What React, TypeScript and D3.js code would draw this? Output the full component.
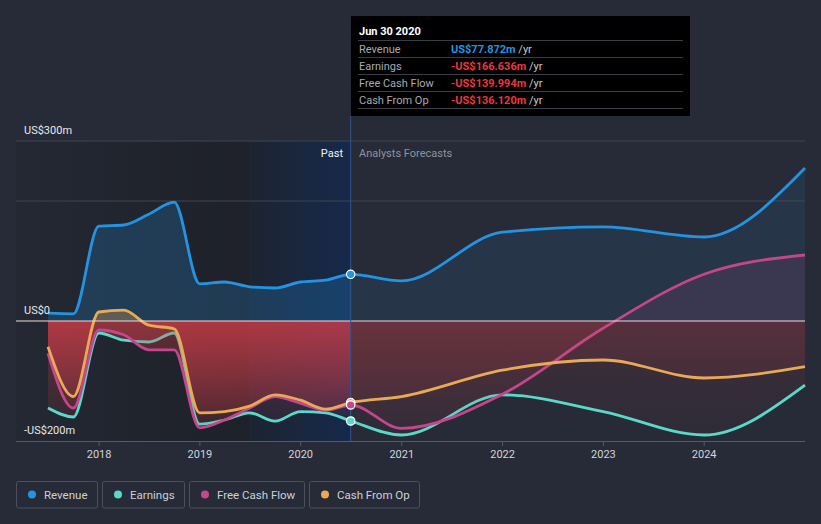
import React from "react";
import * as d3 from "d3";

const W = 821;
const H = 524;

const pastDates = [
  "2017-06-30", "2017-09-30", "2017-12-31", "2018-03-31", "2018-06-30", "2018-09-30",
  "2018-12-31", "2019-03-31", "2019-06-30", "2019-09-30", "2019-12-31", "2020-03-31", "2020-06-30",
];
const forecastDates = ["2020-12-31", "2021-12-31", "2022-12-31", "2023-12-31", "2024-12-31"];

const revenuePast = [13, 12, 158, 160, 178, 198, 62, 65, 57, 55, 65, 68, 77.872];
const revenueFc = [67, 148, 157, 140, 255];
const earningsPast = [-145, -160, -20, -32, -35, -20, -172, -165, -153, -167, -151, -153, -166.636];
const earningsFc = [-190, -123, -151, -190, -107];
const fcfPast = [-54, -145, -15, -23, -48, -48, -178, -165, -145, -126, -137, -149, -139.994];
const fcfFc = [-179, -122, -12, 78, 110];
const cfoPast = [-43, -126, 15, 18, -7, -13, -153, -151, -142, -123, -132, -147, -136.12];
const cfoFc = [-126, -82, -65, -95, -76];

const yearTicks = [2018, 2019, 2020, 2021, 2022, 2023, 2024];
const yTickLabels = [
  { v: 300, t: "US$300m" },
  { v: 0, t: "US$0" },
  { v: -200, t: "-US$200m" },
];
const gridValues = [300, 200];

const seriesNames = ["Revenue", "Earnings", "Free Cash Flow", "Cash From Op"];
const seriesColors = ["#2394e2", "#5ad9c9", "#c4468c", "#e8aa55"];
const tooltipValues = ["US$77.872m", "-US$166.636m", "-US$139.994m", "-US$136.120m"];

const parse = d3.timeParse("%Y-%m-%d");
type Pt = { d: Date; v: number };
const mk = (past: number[], fc: number[]): Pt[] =>
  [...pastDates.map((s, i) => ({ d: parse(s)!, v: past[i] })), ...forecastDates.map((s, i) => ({ d: parse(s)!, v: fc[i] }))];

const series = [
  mk(revenuePast, revenueFc),
  mk(earningsPast, earningsFc),
  mk(fcfPast, fcfFc),
  mk(cfoPast, cfoFc),
];

export default function App() {
  const x = d3.scaleTime().domain([parse("2017-06-30")!, parse("2024-12-31")!]).range([48, 805]);
  const y = d3.scaleLinear().domain([-200, 300]).range([441, 141]);
  const y0 = y(0);
  const nowX = x(parse("2020-06-30")!);
  const bandX = x(parse("2019-06-30")!);
  const left = 16;
  const right = 805;

  const line = d3.line<Pt>().x((p) => x(p.d)).y((p) => y(p.v)).curve(d3.curveMonotoneX);
  const area = d3.area<Pt>().x((p) => x(p.d)).y0(y0).y1((p) => y(p.v)).curve(d3.curveMonotoneX);

  const font = "Roboto, 'Noto Sans', sans-serif";
  const pastPosOp = [0.22, 0.0, 0.25, 0.3];
  const forePosOp = [0.1, 0.0, 0.13, 0.15];

  const lastPast = series.map((s) => s[pastDates.length - 1]);

  return (
    <svg width={W} height={H} style={{ position: "absolute", left: 0, top: 0, display: "block" }} fontFamily={font}>
      <defs>
        <linearGradient id="pastDark" x1="0" x2="1" y1="0" y2="0">
          <stop offset="0" stopColor="#242833" />
          <stop offset="1" stopColor="#1e2129" />
        </linearGradient>
        <linearGradient id="band" x1="0" x2="1" y1="0" y2="0">
          <stop offset="0" stopColor="#1d2432" />
          <stop offset="1" stopColor="#16294a" />
        </linearGradient>
        <linearGradient id="redPast" gradientUnits="userSpaceOnUse" x1="0" x2="0" y1={y0} y2={441}>
          <stop offset="0" stopColor="#e8404a" stopOpacity={0.33} />
          <stop offset="1" stopColor="#e8404a" stopOpacity={0.03} />
        </linearGradient>
        <linearGradient id="redFore" gradientUnits="userSpaceOnUse" x1="0" x2="0" y1={y0} y2={441}>
          <stop offset="0" stopColor="#e8404a" stopOpacity={0.13} />
          <stop offset="1" stopColor="#e8404a" stopOpacity={0.03} />
        </linearGradient>
        <clipPath id="pastPos"><rect x={0} y={0} width={nowX} height={y0} /></clipPath>
        <clipPath id="pastNeg"><rect x={0} y={y0} width={nowX} height={H - y0} /></clipPath>
        <clipPath id="forePos"><rect x={nowX} y={0} width={W - nowX} height={y0} /></clipPath>
        <clipPath id="foreNeg"><rect x={nowX} y={y0} width={W - nowX} height={H - y0} /></clipPath>
      </defs>

      <rect x={0} y={0} width={W} height={H} fill="#262b37" />

      {/* past shading */}
      <rect x={left} y={y(300)} width={bandX - left} height={441 - y(300)} fill="url(#pastDark)" />
      <rect x={bandX} y={y(300)} width={nowX - bandX} height={441 - y(300)} fill="url(#band)" />

      {/* grid */}
      {gridValues.map((v) => (
        <line key={v} x1={left} x2={right} y1={y(v)} y2={y(v)} stroke="#3f4452" strokeWidth={1} />
      ))}

      {/* series fills and lines */}
      {series.map((s, i) => (
        <g key={i}>
          <path d={area(s)!} fill={seriesColors[i]} fillOpacity={pastPosOp[i]} clipPath="url(#pastPos)" />
          <path d={area(s)!} fill={seriesColors[i]} fillOpacity={forePosOp[i]} clipPath="url(#forePos)" />
          {i > 0 && <path d={area(s)!} fill="url(#redPast)" clipPath="url(#pastNeg)" />}
          {i > 0 && <path d={area(s)!} fill="url(#redFore)" clipPath="url(#foreNeg)" />}
          <path d={line(s)!} fill="none" stroke={seriesColors[i]} strokeWidth={2.8} strokeLinejoin="round" />
        </g>
      ))}

      {/* zero line */}
      <line x1={left} x2={right} y1={y0} y2={y0} stroke="#f2dada" strokeWidth={1.2} />

      {/* x axis */}
      <line x1={left} x2={right} y1={441.5} y2={441.5} stroke="#555b6a" strokeWidth={1} />
      {yearTicks.map((yr) => {
        const tx = x(new Date(yr, 0, 1));
        return (
          <g key={yr}>
            <line x1={tx} x2={tx} y1={441} y2={446} stroke="#555b6a" />
            <text x={tx} y={458} textAnchor="middle" fontSize={11} fill="#d2d5da">{yr}</text>
          </g>
        );
      })}

      {/* y labels */}
      {yTickLabels.map((t) => (
        <text key={t.v} x={24} y={y(t.v) - 7} fontSize={11} fill="#e6e8ec">{t.t}</text>
      ))}

      {/* past / forecast */}
      <line x1={nowX} x2={nowX} y1={116} y2={441} stroke="#34548a" strokeWidth={1} />
      <text x={343} y={157} textAnchor="end" fontSize={11} fill="#f0f1f3">Past</text>
      <text x={359} y={157} fontSize={11} fill="#8e939c">Analysts Forecasts</text>

      {/* markers */}
      {[0, 1, 3, 2].map((i) => (
        <circle key={i} cx={x(lastPast[i].d)} cy={y(lastPast[i].v)} r={4.2} fill={seriesColors[i]} stroke="#ffffff" strokeWidth={1.2} />
      ))}

      {/* tooltip */}
      <rect x={351} y={16} width={339} height={100} fill="#000000" />
      <text x={359} y={35} fontSize={11} fontWeight="bold" fill="#ffffff">Jun 30 2020</text>
      {seriesNames.map((n, i) => {
        const ty = 40.5 + i * 17;
        return (
          <g key={n}>
            <line x1={358} x2={683} y1={ty} y2={ty} stroke="#3a3d44" strokeWidth={1} />
            <text x={359} y={ty + 12} fontSize={11} fill="#a7abb2">{n}</text>
            <text x={451} y={ty + 12} fontSize={11}>
              <tspan fontWeight="bold" fill={i === 0 ? "#2394e2" : "#e8383f"}>{tooltipValues[i]}</tspan>
              <tspan fill="#c9ccd1"> /yr</tspan>
            </text>
          </g>
        );
      })}
      <line x1={358} x2={683} y1={108.5} y2={108.5} stroke="#3a3d44" strokeWidth={1} />

      {/* legend */}
      {(() => {
        const boxes = [
          { x: 16.5, w: 81 },
          { x: 102.5, w: 82 },
          { x: 189.5, w: 115 },
          { x: 309.5, w: 110 },
        ];
        return seriesNames.map((n, i) => (
          <g key={n}>
            <rect x={boxes[i].x} y={481.5} width={boxes[i].w} height={26.5} rx={2} fill="none" stroke="#4b505d" strokeWidth={1} />
            <circle cx={boxes[i].x + 15.5} cy={494.5} r={4} fill={seriesColors[i]} />
            <text x={boxes[i].x + 27.5} y={498.5} fontSize={11.5} fill="#cdd0d6">{n}</text>
          </g>
        ));
      })()}
    </svg>
  );
}
